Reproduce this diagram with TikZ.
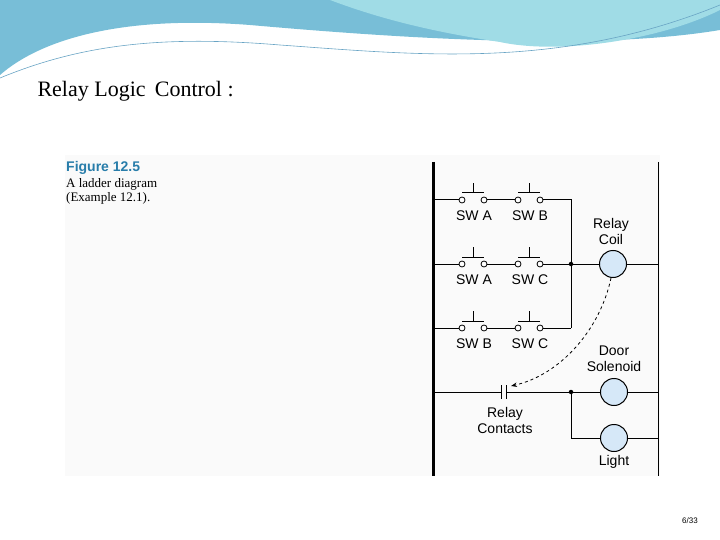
\documentclass[tikz,border=0pt]{standalone}
\usepackage{fontspec}
\setmainfont{Liberation Serif}
\setsansfont{Liberation Sans}
\usetikzlibrary{arrows.meta}
\definecolor{figblue}{RGB}{40,125,170}
\definecolor{coilfill}{RGB}{214,232,248}
\definecolor{waveA}{RGB}{120,190,215}
\definecolor{waveB}{RGB}{160,220,230}
\begin{document}
\begin{tikzpicture}[
	x=1pt, y=-1pt,
	wire/.style={line width=1pt},
	rail/.style={line width=3pt},
	term/.style={circle, draw, fill=white, inner sep=0pt, minimum size=6pt, line width=0.8pt},
	load/.style={circle, draw, fill=coilfill, minimum size=27pt, inner sep=0pt, line width=1pt},
	lbl/.style={font=\sffamily\fontsize{14}{16}\selectfont, align=center},
	dot/.style={circle, fill, inner sep=0pt, minimum size=4.5pt}
]
	\useasboundingbox (0,0) rectangle (720,540);
	% header waves
	\fill[waveA] (0,0) -- (720,0) -- (720,30) .. controls (600,50) and (420,40) .. (250,25)
		.. controls (120,15) and (40,40) .. (0,75) -- cycle;
	\fill[waveB] (330,0) -- (720,0) -- (720,10) .. controls (660,40) and (560,55) .. (500,42)
		.. controls (420,30) and (370,15) .. (330,0) -- cycle;
	\draw[figblue!70, line width=0.6pt] (0,78) .. controls (80,45) and (160,35) .. (280,45)
		.. controls (420,55) and (560,70) .. (720,5);
	% panel
	\fill[gray!4] (65,155) rectangle (660,476);
	\node[font=\fontsize{22}{26}\selectfont, anchor=west] (title) at (34,91) {Relay Logic\, Control :};
	\node[anchor=west, inner sep=0pt, font=\sffamily\bfseries\fontsize{14}{16}\selectfont,
		text=figblue] (figno) at (66,168) {Figure 12.5};
	\node[anchor=north west, inner sep=0pt, align=left, font=\fontsize{13}{14}\selectfont]
		(caption) at (66,178) {A ladder diagram\\(Example 12.1).};
	\node[font=\sffamily\fontsize{8}{9}\selectfont] (pagenum) at (690,521) {6/33};

	% rails
	\draw[rail] (433,162) -- (433,476);
	\draw[wire] (658,162) -- (658,476);

	% switches
	\foreach \name/\x/\y/\txt in {a1/462/200/SW A, b1/518/200/SW B,
		a2/462/264/SW A, c2/518/264/SW C, b3/462/328/SW B, c3/518/328/SW C} {
		\node[term] (\name l) at (\x,\y) {};
		\node[term] (\name r) at (\x+22,\y) {};
		\draw[wire] (\x,\y-7) -- (\x+22,\y-7);
		\draw[wire] (\x+11,\y-7) -- (\x+11,\y-17);
		\node[lbl] (\name t) at (\x+12,\y+16) {\txt};
	}
	\coordinate (j1) at (571,200);
	\node[dot] (j2) at (571,264) {};
	\coordinate (j3) at (571,328);
	\foreach \r/\y in {1/200, 2/264, 3/328} {
		\coordinate (left\r) at (433,\y);
	}
	\draw[wire] (left1) -- (a1l) (a1r) -- (b1l) (b1r) -- (j1) -- (j3);
	\draw[wire] (left2) -- (a2l) (a2r) -- (c2l) (c2r) -- (j2);
	\draw[wire] (left3) -- (b3l) (b3r) -- (c3l) (c3r) -- (j3);

	% relay coil
	\node[load] (coil) at (613,264) {};
	\node[lbl] (coilt) at (611,231) {Relay\\Coil};
	\draw[wire] (j2) -- (coil) -- (658,264);

	% lower rungs
	\coordinate (left4) at (433,392);
	\coordinate (kl) at (501,392);
	\coordinate (kr) at (506,392);
	\draw[wire] (501,385) -- (501,399) (506,385) -- (506,399);
	\node[lbl] (kt) at (505,420) {Relay\\Contacts};
	\node[dot] (j4) at (571,392) {};
	\node[load] (door) at (614,392) {};
	\node[lbl] (doort) at (614,359) {Door\\Solenoid};
	\node[load] (light) at (614,438) {};
	\node[lbl] (lightt) at (614,462) {Light};
	\draw[wire] (left4) -- (kl) (kr) -- (j4) -- (door) -- (658,392);
	\draw[wire] (j4) |- (light) -- (658,438);

	% coupling
	\draw[dashed, line width=0.8pt, -{Stealth[length=6pt]}] (coil.south) ++(-2,0)
		.. controls (600,330) and (560,375) .. (511,386);
\end{tikzpicture}
\end{document}
